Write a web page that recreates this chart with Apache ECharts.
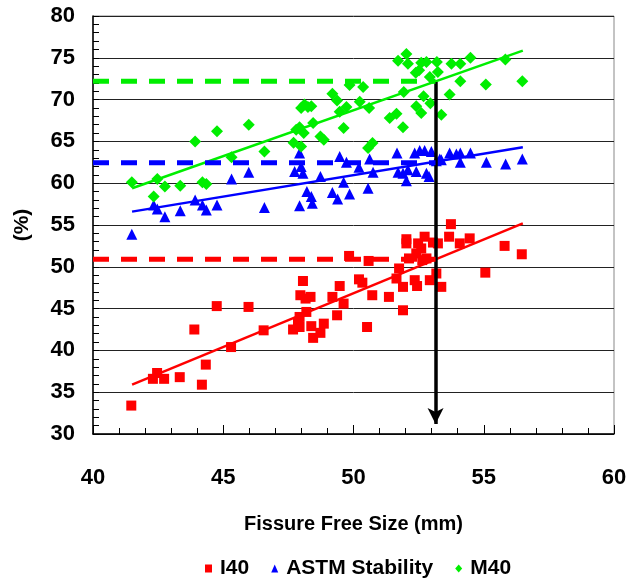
<!DOCTYPE html>
<html><head><meta charset="utf-8">
<script src="https://cdn.jsdelivr.net/npm/echarts@6/dist/echarts.min.js"></script>
<style>html,body{margin:0;padding:0;background:#fff}#c{width:642px;height:586px}</style>
</head><body><div id="c"></div>
<script>
var xTicks = [40, 45, 50, 55, 60];
var yTicks = [30, 35, 40, 45, 50, 55, 60, 65, 70, 75, 80];
var seriesNames = ['I40', 'ASTM Stability', 'M40'];

var i40 = [[41.47,33.4],[42.3,36.6],[42.46,37.3],[42.73,36.6],[43.33,36.8],[43.89,42.5],[44.18,35.9],[44.33,38.3],[44.75,45.3],[45.3,40.4],[45.97,45.2],[46.55,42.4],[47.68,42.5],[47.87,43.4],[47.93,42.8],[47.93,44.0],[47.96,46.6],[48.06,48.3],[48.16,46.2],[48.19,44.6],[48.35,46.4],[48.38,42.9],[48.45,41.5],[48.73,42.1],[48.86,43.2],[49.19,46.4],[49.37,44.2],[49.47,47.7],[49.62,45.6],[49.83,51.3],[50.21,48.5],[50.34,48.1],[50.52,42.8],[50.58,50.7],[50.72,46.6],[51.36,46.4],[51.65,48.6],[51.75,49.8],[51.9,47.6],[51.9,44.8],[52.03,53.3],[52.03,52.8],[52.13,51.0],[52.35,48.4],[52.44,47.7],[52.41,51.6],[52.48,52.8],[52.6,52.2],[52.73,53.6],[52.64,50.8],[52.8,51.0],[52.93,48.4],[53.05,52.9],[53.24,52.8],[53.18,49.2],[53.37,47.6],[53.67,53.6],[53.74,55.1],[54.08,52.8],[54.46,53.4],[55.06,49.3],[55.8,52.5],[56.46,51.5]];

var astm = [[41.49,53.9],[42.33,57.4],[42.47,56.9],[42.76,56.0],[43.35,56.7],[43.92,58.0],[44.2,57.4],[44.35,56.8],[44.76,57.4],[45.32,60.5],[45.98,61.3],[46.58,57.1],[47.74,61.4],[47.93,63.6],[47.99,62.0],[48.06,61.2],[48.21,59.0],[48.38,58.4],[48.42,57.6],[47.93,57.3],[48.73,60.8],[49.47,63.2],[49.62,60.1],[49.19,58.9],[49.39,58.1],[49.85,58.7],[49.73,62.5],[50.21,61.9],[50.56,59.4],[50.62,62.9],[50.75,61.3],[51.67,63.6],[51.71,61.3],[51.9,61.2],[52.03,60.3],[52.09,61.6],[52.35,63.6],[52.41,61.4],[52.54,63.9],[52.73,63.9],[52.8,61.2],[52.99,63.8],[52.9,60.8],[53.18,62.7],[53.37,62.8],[53.69,63.6],[53.95,63.5],[54.1,63.6],[54.1,62.5],[54.49,63.6],[55.1,62.5],[55.84,62.3],[56.48,62.9],[53.31,62.9]];

var m40 = [[41.49,60.1],[42.33,58.4],[42.47,60.5],[42.76,59.6],[43.35,59.7],[43.92,65.0],[44.2,60.1],[44.35,59.9],[44.76,66.2],[45.32,63.1],[45.98,67.0],[46.58,63.8],[47.7,64.85],[47.93,66.7],[47.8,66.4],[47.99,64.4],[48.09,66.0],[47.99,69.0],[48.12,69.4],[48.25,69.1],[48.38,69.2],[48.45,67.2],[48.73,65.6],[48.86,65.2],[49.19,70.7],[49.37,69.9],[49.47,68.55],[49.62,66.6],[49.73,69.1],[49.85,71.75],[50.24,69.75],[50.37,71.5],[50.6,69.0],[50.56,64.2],[50.73,64.8],[51.39,67.8],[51.65,68.3],[51.9,66.7],[51.93,70.9],[51.71,74.65],[52.03,75.45],[52.09,74.3],[52.39,73.2],[52.52,73.5],[52.41,69.2],[52.6,68.4],[52.69,70.4],[52.8,74.5],[52.6,74.4],[52.93,72.7],[52.95,69.55],[53.2,74.5],[53.24,73.3],[53.37,68.2],[53.69,70.6],[53.76,74.3],[54.1,74.3],[54.1,72.2],[54.49,75.0],[55.08,71.8],[55.83,74.8],[56.48,72.2]];

var i40Trend = [[41.5,35.9],[56.5,55.2]];
var astmTrend = [[41.5,56.6],[56.5,64.3]];
var m40Trend = [[41.5,59.4],[56.5,75.85]];

var i40Level = [[40,50.9],[53.15,50.9]];
var astmLevel = [[40,62.45],[53.15,62.45]];
var m40Level = [[40,72.2],[53.15,72.2]];

var arrowLine = [[53.15,72.1],[53.15,31.2]];

var colors = ['#ff0000', '#0000ff', '#00ee00'];
var FONT = '"Liberation Sans", Arial, sans-serif';

var chart = echarts.init(document.getElementById('c'), null, {renderer: 'canvas'});

function scatter(name, data, symbol, size, color) {
  return {name: name, type: 'scatter', data: data, symbol: symbol, symbolSize: size,
    itemStyle: {color: color, opacity: 1}, z: 3, animation: false};
}
function line(data, color, width, type, z) {
  return {type: 'line', data: data, symbol: 'none', lineStyle: {color: color, width: width, type: type},
    z: z, silent: true, animation: false};
}

chart.setOption({
  animation: false,
  grid: {left: 93, right: 28, top: 16, bottom: 152, show: true, borderColor: '#888', borderWidth: 1, backgroundColor: 'transparent'},
  xAxis: {
    type: 'value', min: 40, max: 60, interval: 5,
    name: 'Fissure Free Size (mm)', nameLocation: 'middle', nameGap: 80,
    nameTextStyle: {fontFamily: FONT, fontWeight: 'bold', fontSize: 20, color: '#000'},
    axisLine: {show: true, lineStyle: {color: '#000', width: 1.5}},
    axisTick: {show: true, inside: true, length: 9, lineStyle: {color: '#000', width: 1}},
    minorTick: {show: true, splitNumber: 5, length: 6, lineStyle: {color: '#000', width: 1}},
    splitLine: {show: false},
    axisLabel: {margin: 33, fontFamily: FONT, fontWeight: 'bold', fontSize: 22, color: '#000',
      formatter: function (v) { return xTicks.indexOf(v) >= 0 ? String(v) : ''; }}
  },
  yAxis: {
    type: 'value', min: 30, max: 80, interval: 5,
    name: '(%)', nameLocation: 'middle', nameGap: 60, nameRotate: 90,
    nameTextStyle: {fontFamily: FONT, fontWeight: 'bold', fontSize: 21, color: '#000'},
    axisLine: {show: true, lineStyle: {color: '#000', width: 1.5}},
    axisTick: {show: true, inside: true, length: 6, lineStyle: {color: '#000', width: 1}},
    minorTick: {show: true, splitNumber: 5, length: 6, lineStyle: {color: '#000', width: 1}},
    splitLine: {show: true, lineStyle: {color: '#222', width: 1}},
    axisLabel: {margin: 18, fontFamily: FONT, fontWeight: 'bold', fontSize: 22, color: '#000',
      formatter: function (v) { return yTicks.indexOf(v) >= 0 ? String(v) : ''; }}
  },
  legend: {
    bottom: 2, left: 200, itemGap: 22, itemWidth: 7, itemHeight: 8,
    data: [
      {name: seriesNames[0], icon: 'rect'},
      {name: seriesNames[1], icon: 'triangle'},
      {name: seriesNames[2], icon: 'diamond'}
    ],
    textStyle: {fontFamily: FONT, fontWeight: 'bold', fontSize: 21, color: '#000', padding: [0,0,0,3]}
  },
  series: [
    scatter(seriesNames[0], i40, 'rect', 10, colors[0]),
    scatter(seriesNames[1], astm, 'triangle', 11, colors[1]),
    scatter(seriesNames[2], m40, 'diamond', 12, colors[2]),
    line(i40Trend, colors[0], 2.5, 'solid', 4),
    line(astmTrend, colors[1], 2.5, 'solid', 4),
    line(m40Trend, colors[2], 2.5, 'solid', 4),
    line(i40Level, colors[0], 5, [16, 12], 5),
    line(astmLevel, colors[1], 5, [16, 12], 5),
    line(m40Level, colors[2], 5, [16, 12], 5),
    {type: 'line', data: [], z: 6, silent: true,
      markLine: {silent: true, symbol: ['none', 'arrow'], symbolSize: [12, 16], animation: false,
        label: {show: false}, lineStyle: {color: '#000', width: 3.5, type: 'solid'},
        data: [[{coord: arrowLine[0]}, {coord: arrowLine[1]}]]}}
  ]
});
</script></body></html>
